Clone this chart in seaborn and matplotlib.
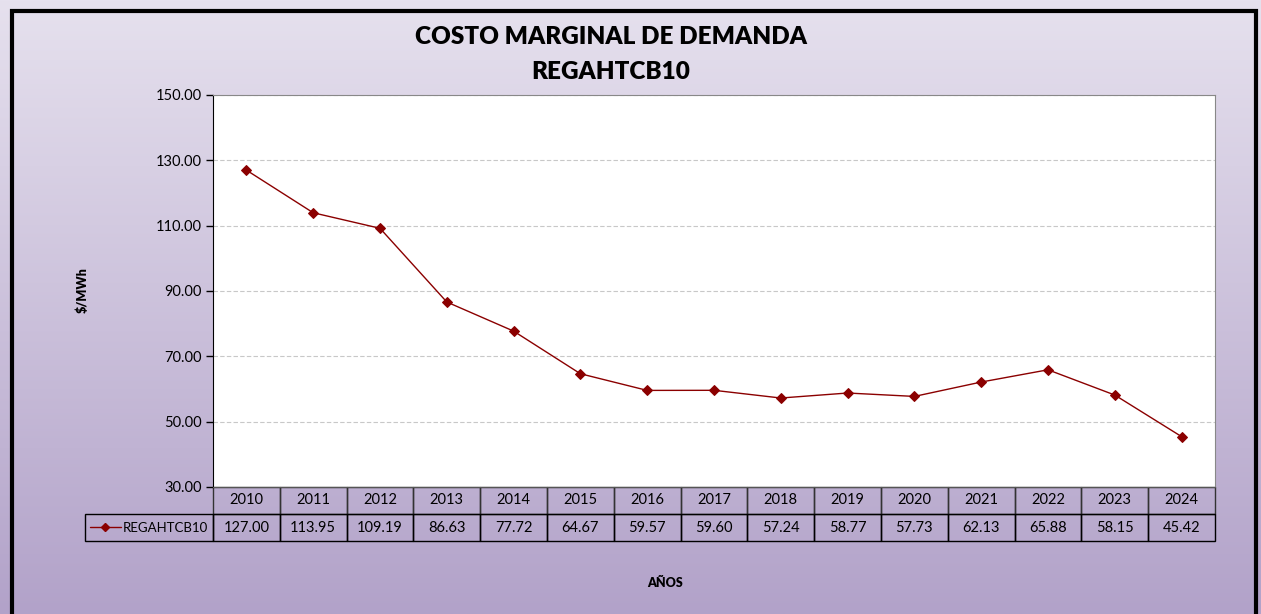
import numpy as np
import matplotlib
matplotlib.use("Agg")
import matplotlib.pyplot as plt
from matplotlib.lines import Line2D
from matplotlib.patches import Rectangle
import seaborn as sns

# data
years = ['2010', '2011', '2012', '2013', '2014', '2015', '2016', '2017',
         '2018', '2019', '2020', '2021', '2022', '2023', '2024']
costs = [127.00, 113.95, 109.19, 86.63, 77.72, 64.67, 59.57, 59.60,
         57.24, 58.77, 57.73, 62.13, 65.88, 58.15, 45.42]
series_name = 'REGAHTCB10'
line_color = '#8B0000'

sns.set_style("white")
plt.rcParams['font.family'] = ['Lato', 'DejaVu Sans']
plt.rcParams['text.color'] = 'black'
plt.rcParams['ytick.color'] = 'black'
plt.rcParams['xtick.color'] = 'black'

W, H = 1261, 614
fig = plt.figure(figsize=(W / 100, H / 100), dpi=100)

# gradient background + black frame
bg = fig.add_axes([0, 0, 1, 1], zorder=-10)
top = np.array([230, 225, 238]) / 255
bot = np.array([178, 162, 201]) / 255
t = np.linspace(0, 1, 256)[:, None]
grad = top * (1 - t) + bot * t
bg.imshow(grad[:, None, :].repeat(2, axis=1), aspect='auto', extent=[0, 1, 0, 1])
bg.add_patch(Rectangle((11.5 / W, -0.1), (1256 - 11.5) / W, 1.1 - 11.5 / H,
                       fill=False, edgecolor='black', linewidth=3))
bg.set_xlim(0, 1)
bg.set_ylim(0, 1)
bg.axis('off')

ax = fig.add_axes([213 / W, 1 - 487 / H, (1215 - 213) / W, (487 - 95) / H])
ax.set_facecolor('white')
sns.pointplot(x=years, y=costs, color=line_color, marker='D', markersize=5,
              linewidth=1, ax=ax)
ax.set_xlim(-0.5, len(years) - 0.5)
ax.set_ylim(30, 150)
ax.set_yticks(np.arange(30, 151, 20))
ax.set_yticklabels([f'{v:.2f}' for v in np.arange(30, 151, 20)], fontsize=10.5)
ax.tick_params(axis='y', direction='out', length=5, width=1, color='black', pad=3, left=True)
ax.set_xticks([])
ax.set_xlabel('')
ax.set_ylabel('')
ax.yaxis.grid(True, linestyle=(0, (4, 2)), color='#C8C8C8', linewidth=0.8)
ax.set_axisbelow(True)
for s in ['top', 'right']:
    ax.spines[s].set_color('#888888')
    ax.spines[s].set_linewidth(0.8)
ax.spines['left'].set_color('black')
ax.spines['bottom'].set_color('#555555')

# data table under the axis
n = len(years)
cell_text = [[''] + years, [series_name] + [f'{v:.2f}' for v in costs]]
lab_w = 128 / 1002
col_w = 1 / n
tbl = ax.table(cellText=cell_text, colWidths=[lab_w] + [col_w] * n,
               cellLoc='center', bbox=[-lab_w, -54 / 392, 1 + lab_w, 54 / 392])
tbl.auto_set_font_size(False)
tbl.set_fontsize(10.5)
for (r, c), cell in tbl.get_celld().items():
    cell.set_facecolor('none')
    cell.set_linewidth(1)
    cell.set_edgecolor('black' if r == 1 else '#333333')
    if r == 0 and c == 0:
        cell.set_edgecolor('none')
    if r == 1 and c == 0:
        cell.get_text().set_ha('right')
        cell._loc = 'right'
        cell.PAD = 0.04
        cell.set_fontsize(9.5)

# legend key inside the row label cell
fig.add_artist(Line2D([90 / W, 121 / W], [1 - 527 / H] * 2, color=line_color,
                      linewidth=1, transform=fig.transFigure))
fig.add_artist(Line2D([105.5 / W], [1 - 527 / H], color=line_color, linestyle='none',
                      marker='D', markersize=4.5, transform=fig.transFigure))

fig.text(611 / W, 1 - 37 / H, 'COSTO MARGINAL DE DEMANDA', ha='center', va='center',
         fontsize=17.5, fontweight='heavy')
fig.text(611 / W, 1 - 72 / H, series_name, ha='center', va='center',
         fontsize=17.5, fontweight='heavy')
fig.text(82 / W, 1 - 290 / H, '$/MWh', rotation=90, ha='center', va='center',
         fontsize=9, fontweight='heavy')
fig.text(665 / W, 1 - 583 / H, 'AÑOS', ha='center', va='center',
         fontsize=9, fontweight='heavy')

fig.savefig('out.png', dpi=100)
